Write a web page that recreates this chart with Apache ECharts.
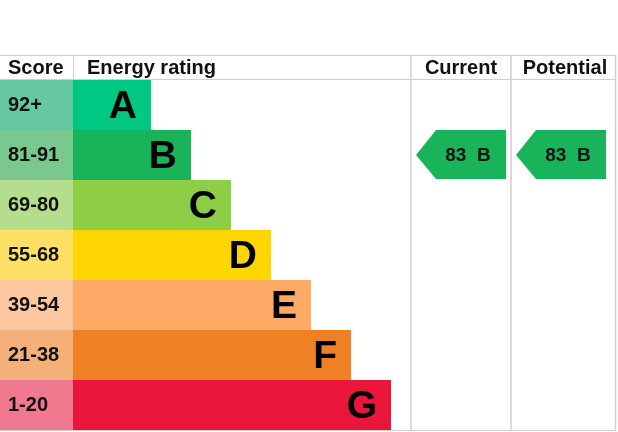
<!DOCTYPE html>
<html>
<head>
<meta charset="utf-8">
<script src="https://cdn.jsdelivr.net/npm/echarts@6/dist/echarts.min.js"></script>
<style>
  html, body { margin: 0; padding: 0; background: #fff; }
  #main { width: 618px; height: 432px; }
</style>
</head>
<body>
<div id="main"></div>
<script>
// energy bands, top (best) to bottom
var ratings = ['A', 'B', 'C', 'D', 'E', 'F', 'G'];
var scoreRanges = ['92+', '81-91', '69-80', '55-68', '39-54', '21-38', '1-20'];
var barLength = [78, 118, 158, 198, 238, 278, 318];
var bandColors = ['#00c781', '#19b459', '#8dce46', '#ffd500', '#fcaa65', '#ef8023', '#e9153b'];
var scoreColors = ['#66c8a0', '#79c88e', '#b4de8e', '#ffe066', '#fdc7a0', '#f5b07a', '#f0788f'];

var currentScore = 83, currentBand = 'B';
var potentialScore = 83, potentialBand = 'B';

var FONT = 'Arial, "Liberation Sans", sans-serif';
var LINE = '#cfcfcf';

var chart = echarts.init(document.getElementById('main'), null, { renderer: 'canvas' });

function arrowItem(params, api) {
  var cs = params.coordSys;
  var yc = api.coord([0, api.value(1)])[1];
  var h = api.size([0, 1])[1];
  var top = yc - h / 2, bot = yc + h / 2 - 1;
  var tip = cs.x + 5, body = cs.x + 25, right = cs.x + 95;
  return {
    type: 'group',
    children: [{
      type: 'polygon',
      shape: { points: [[tip, yc], [body, top], [right, top], [right, bot], [body, bot]] },
      style: { fill: bandColors[api.value(1)] }
    }, {
      type: 'text',
      style: {
        text: api.value(2) + '  ' + ratings[api.value(1)],
        x: cs.x + 57, y: yc + 1,
        align: 'center', verticalAlign: 'middle',
        fill: '#111', font: 'bold 19px ' + FONT
      }
    }]
  };
}

var grids = [
  { left: 0, top: 80, width: 73, height: 350 },
  { left: 73, top: 80, width: 338, height: 350 },
  { left: 411, top: 80, width: 100, height: 350 },
  { left: 511, top: 80, width: 105, height: 350 }
];

var xAxes = [], yAxes = [];
grids.forEach(function (g, i) {
  xAxes.push({ gridIndex: i, type: 'value', min: 0, max: i == 1 ? 338 : 1, show: false });
  yAxes.push({ gridIndex: i, type: 'category', data: ratings, inverse: true, show: false });
});

function header(text, x, align) {
  return {
    type: 'text', x: x, y: 68,
    style: { text: text, font: 'bold 20px ' + FONT, fill: '#111', align: align || 'left', verticalAlign: 'middle' }
  };
}

var option = {
  animation: false,
  backgroundColor: '#fff',
  grid: grids,
  xAxis: xAxes,
  yAxis: yAxes,
  graphic: [
    // table lines
    { type: 'line', shape: { x1: 0, y1: 55.5, x2: 616, y2: 55.5 }, style: { stroke: LINE, lineWidth: 1 } },
    { type: 'line', shape: { x1: 0, y1: 79.5, x2: 616, y2: 79.5 }, style: { stroke: LINE, lineWidth: 1 } },
    { type: 'line', shape: { x1: 0, y1: 430.5, x2: 616, y2: 430.5 }, style: { stroke: LINE, lineWidth: 1 } },
    { type: 'line', shape: { x1: 73.5, y1: 55, x2: 73.5, y2: 80 }, style: { stroke: LINE, lineWidth: 1 } },
    { type: 'line', shape: { x1: 411, y1: 55, x2: 411, y2: 431 }, style: { stroke: LINE, lineWidth: 1.5 } },
    { type: 'line', shape: { x1: 511, y1: 55, x2: 511, y2: 431 }, style: { stroke: LINE, lineWidth: 1.5 } },
    { type: 'line', shape: { x1: 615.5, y1: 55, x2: 615.5, y2: 431 }, style: { stroke: LINE, lineWidth: 1.5 } },
    // headers
    header('Score', 8),
    header('Energy rating', 87),
    header('Current', 461, 'center'),
    header('Potential', 565, 'center')
  ],
  series: [{
    type: 'bar',
    xAxisIndex: 0, yAxisIndex: 0,
    barCategoryGap: 0,
    data: scoreRanges.map(function (s, i) {
      return { value: 1, name: s, itemStyle: { color: scoreColors[i] } };
    }),
    label: {
      show: true, position: 'insideLeft', distance: 8,
      formatter: function (p) { return scoreRanges[p.dataIndex]; },
      color: '#111', fontSize: 20, fontWeight: 'bold', fontFamily: FONT
    }
  }, {
    type: 'bar',
    xAxisIndex: 1, yAxisIndex: 1,
    barCategoryGap: 0,
    data: barLength.map(function (v, i) {
      return { value: v, itemStyle: { color: bandColors[i] } };
    }),
    label: {
      show: true, position: 'insideRight', distance: 14, offset: [0, 2],
      formatter: function (p) { return ratings[p.dataIndex]; },
      color: '#000', fontSize: 39, fontWeight: 'bold', fontFamily: FONT
    }
  }, {
    type: 'custom',
    xAxisIndex: 2, yAxisIndex: 2,
    renderItem: arrowItem,
    data: [[0, ratings.indexOf(currentBand), currentScore]]
  }, {
    type: 'custom',
    xAxisIndex: 3, yAxisIndex: 3,
    renderItem: arrowItem,
    data: [[0, ratings.indexOf(potentialBand), potentialScore]]
  }]
};

chart.setOption(option);
</script>
</body>
</html>
